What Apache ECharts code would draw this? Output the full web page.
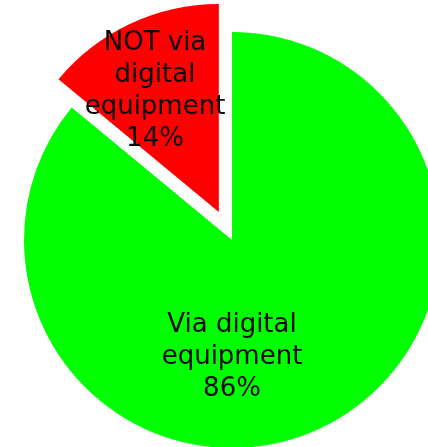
<!DOCTYPE html>
<html>
<head>
<meta charset="utf-8">
<script src="https://cdn.jsdelivr.net/npm/echarts@6/dist/echarts.min.js"></script>
<style>
  html, body { margin: 0; padding: 0; background: #ffffff; }
  #chart { width: 428px; height: 447px; }
</style>
</head>
<body>
<div id="chart"></div>
<script>
// Share of work done via digital equipment
const categories = ['Via digital\nequipment', 'NOT via\ndigital\nequipment'];
const shares = [86, 14];
const sliceColors = ['#00ff00', '#ff0000'];
// Label anchor points (px) for each slice
const labelPositions = [[232, 357], [155, 91]];

const pieCenter = [232, 240];
const pieRadius = 208;
const explodeDistance = 31;
const explodedIndex = 1;

// Direction of the exploded slice: middle of its angular span (clockwise from 12 o'clock)
const total = shares.reduce((a, b) => a + b, 0);
const before = shares.slice(0, explodedIndex).reduce((a, b) => a + b, 0);
const midAngle = ((before + shares[explodedIndex] / 2) / total) * 2 * Math.PI;
const explodedCenter = [
  pieCenter[0] + Math.sin(midAngle) * explodeDistance,
  pieCenter[1] - Math.cos(midAngle) * explodeDistance
];

const chart = echarts.init(document.getElementById('chart'), null, { renderer: 'canvas' });

function makeSeries(center, visibleIndex) {
  return {
    type: 'pie',
    center: center,
    radius: [0, pieRadius],
    startAngle: 90,
    clockwise: true,
    silent: true,
    emphasis: { disabled: true },
    itemStyle: { borderWidth: 0 },
    label: {
      show: true,
      position: 'inside',
      formatter: p => p.name + '\n' + p.value + '%',
      fontFamily: 'DejaVu Sans',
      fontSize: 26,
      lineHeight: 32,
      color: '#0a0a0a',
      align: 'center'
    },
    labelLine: { show: false },
    labelLayout: params => {
      const pos = labelPositions[params.dataIndex];
      return { x: pos[0], y: pos[1], align: 'center', verticalAlign: 'middle' };
    },
    data: categories.map((name, i) => ({
      name,
      value: shares[i],
      itemStyle: { color: i === visibleIndex ? sliceColors[i] : 'transparent' },
      label: { show: i === visibleIndex }
    }))
  };
}

chart.setOption({
  animation: false,
  backgroundColor: '#ffffff',
  series: [
    makeSeries(pieCenter, 0),
    makeSeries(explodedCenter, explodedIndex)
  ]
});
</script>
</body>
</html>
